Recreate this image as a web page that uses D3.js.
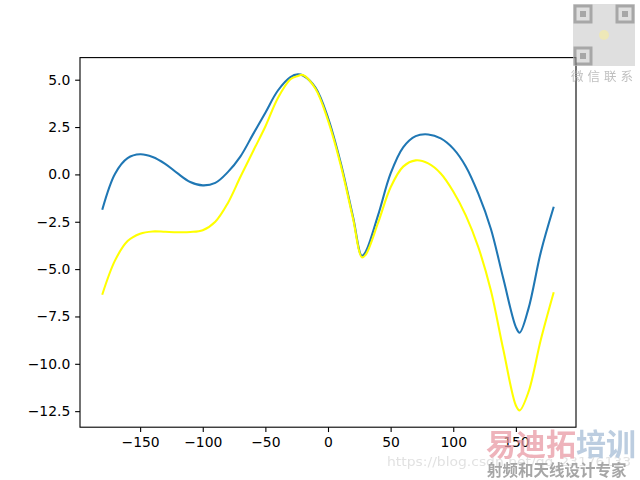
<!DOCTYPE html>
<html>
<head>
<meta charset="utf-8">
<script src="https://cdn.jsdelivr.net/npm/d3@7"></script>
<style>
  body { margin: 0; background: #fff; }
  svg { display: block; font-family: "DejaVu Sans", sans-serif; }
</style>
</head>
<body>
<svg id="chart" width="640" height="480"></svg>
<script>
// values
var xs =     [-180, -170, -160, -150, -140, -130, -120, -110, -100, -90, -80, -70, -60, -50, -40, -30, -24, -20, -10, 0, 10, 20, 27, 30, 40, 50, 60, 70, 80, 90, 100, 110, 120, 130, 140, 150, 153, 160, 170, 180];
var blue =   [-1.81, 0.04, 0.86, 1.06, 0.92, 0.56, 0.05, -0.4, -0.58, -0.45, 0.12, 0.94, 2.1, 3.26, 4.43, 5.14, 5.28, 5.22, 4.58, 2.99, 0.65, -2.25, -4.3, -4.1, -2.15, 0.05, 1.43, 2.02, 2.11, 1.9, 1.36, 0.42, -1.02, -2.87, -5.51, -8.06, -8.36, -7.1, -4.08, -1.76];
var yellow = [-6.3, -4.54, -3.52, -3.13, -3.01, -3.03, -3.05, -3.04, -2.95, -2.5, -1.52, -0.14, 1.2, 2.53, 4.03, 5.02, 5.2, 5.25, 4.52, 2.85, 0.53, -2.34, -4.38, -4.25, -2.55, -0.68, 0.41, 0.74, 0.58, 0.05, -0.9, -2.16, -3.84, -6.12, -9.26, -12.2, -12.46, -11.5, -8.7, -6.27];
var xTicks = [-150, -100, -50, 0, 50, 100, 150];
var yTicks = [-12.5, -10.0, -7.5, -5.0, -2.5, 0.0, 2.5, 5.0];

var svg = d3.select("#chart");
var plotLeft = 80, plotRight = 576, plotTop = 57.6, plotBottom = 427.2;

// matplotlib style 5% margins
var xMin = d3.min(xs), xMax = d3.max(xs);
var xPad = (xMax - xMin) * 0.05;
var allY = blue.concat(yellow);
var yMin = d3.min(allY), yMax = d3.max(allY);
var yPad = (yMax - yMin) * 0.05;

var x = d3.scaleLinear().domain([xMin - xPad, xMax + xPad]).range([plotLeft, plotRight]);
var y = d3.scaleLinear().domain([yMin - yPad, yMax + yPad]).range([plotBottom, plotTop]);

svg.append("rect")
	.attr("x", 0).attr("y", 0).attr("width", 640).attr("height", 480)
	.attr("fill", "#fff");

// lines
var line = d3.line()
	.x(function(d) { return x(d[0]); })
	.y(function(d) { return y(d[1]); })
	.curve(d3.curveCatmullRom.alpha(0.5));

var series = [
	{ values: blue, color: "#1f77b4" },
	{ values: yellow, color: "#ffff00" }
];

series.forEach(function(s) {
	svg.append("path")
		.datum(xs.map(function(v, i) { return [v, s.values[i]]; }))
		.attr("d", line)
		.attr("fill", "none")
		.attr("stroke", s.color)
		.attr("stroke-width", 2.08)
		.attr("stroke-linejoin", "round")
		.attr("stroke-linecap", "square");
});

// axes
var xAxis = d3.axisBottom(x).tickValues(xTicks).tickSize(4.86).tickPadding(4.86).tickFormat(d3.format("d"));
var yAxis = d3.axisLeft(y).tickValues(yTicks).tickSize(4.86).tickPadding(4.86).tickFormat(d3.format(".1f"));

var gx = svg.append("g").attr("transform", "translate(0," + plotBottom + ")").call(xAxis);
var gy = svg.append("g").attr("transform", "translate(" + plotLeft + ",0)").call(yAxis);

[gx, gy].forEach(function(g) {
	g.select(".domain").remove();
	g.selectAll(".tick line").attr("stroke", "#000").attr("stroke-width", 1.1);
	g.selectAll(".tick text")
		.attr("fill", "#000")
		.style("font-size", "13.9px")
		.style("font-family", "'DejaVu Sans', sans-serif");
});

// frame
svg.append("rect")
	.attr("x", plotLeft).attr("y", plotTop)
	.attr("width", plotRight - plotLeft).attr("height", plotBottom - plotTop)
	.attr("fill", "none")
	.attr("stroke", "#000")
	.attr("stroke-width", 1.1);

// watermarks
var wm = svg.append("g").attr("opacity", 0.75);

var qr = wm.append("g").attr("transform", "translate(573,4)");
qr.append("rect").attr("width", 62).attr("height", 62).attr("fill", "#d4d4d4");
[[2, 2], [44, 2], [2, 44]].forEach(function(p) {
	qr.append("rect").attr("x", p[0]).attr("y", p[1]).attr("width", 16).attr("height", 16)
		.attr("fill", "none").attr("stroke", "#8a8a8a").attr("stroke-width", 3);
	qr.append("rect").attr("x", p[0] + 5).attr("y", p[1] + 5).attr("width", 6).attr("height", 6)
		.attr("fill", "#8a8a8a");
});
qr.append("circle").attr("cx", 31).attr("cy", 31).attr("r", 5).attr("fill", "#e8e0a0");

wm.append("text")
	.attr("x", 604).attr("y", 81)
	.attr("text-anchor", "middle")
	.attr("fill", "#aaa")
	.style("font-family", "'Noto Sans CJK SC', sans-serif")
	.style("font-size", "12.5px")
	.style("letter-spacing", "4px")
	.text("微信联系");

wm.append("text")
	.attr("x", 387).attr("y", 466)
	.attr("fill", "#d8d8d8")
	.attr("textLength", 244)
	.attr("lengthAdjust", "spacingAndGlyphs")
	.style("font-family", "'DejaVu Sans', sans-serif")
	.style("font-size", "12px")
	.text("https://blog.csdn.net/qq_23176133");

var brand = wm.append("text")
	.attr("x", 486).attr("y", 455)
	.style("font-family", "'Noto Sans CJK SC', sans-serif")
	.style("font-size", "30px")
	.style("font-weight", "bold");
brand.append("tspan").attr("fill", "#e89aa4").text("易迪拓");
brand.append("tspan").attr("fill", "#a6bdd6").text("培训");

wm.append("text")
	.attr("x", 487).attr("y", 475.5)
	.attr("fill", "#888")
	.style("font-family", "'Noto Sans CJK SC', sans-serif")
	.style("font-size", "15.5px")
	.style("font-weight", "bold")
	.text("射频和天线设计专家");
</script>
</body>
</html>
